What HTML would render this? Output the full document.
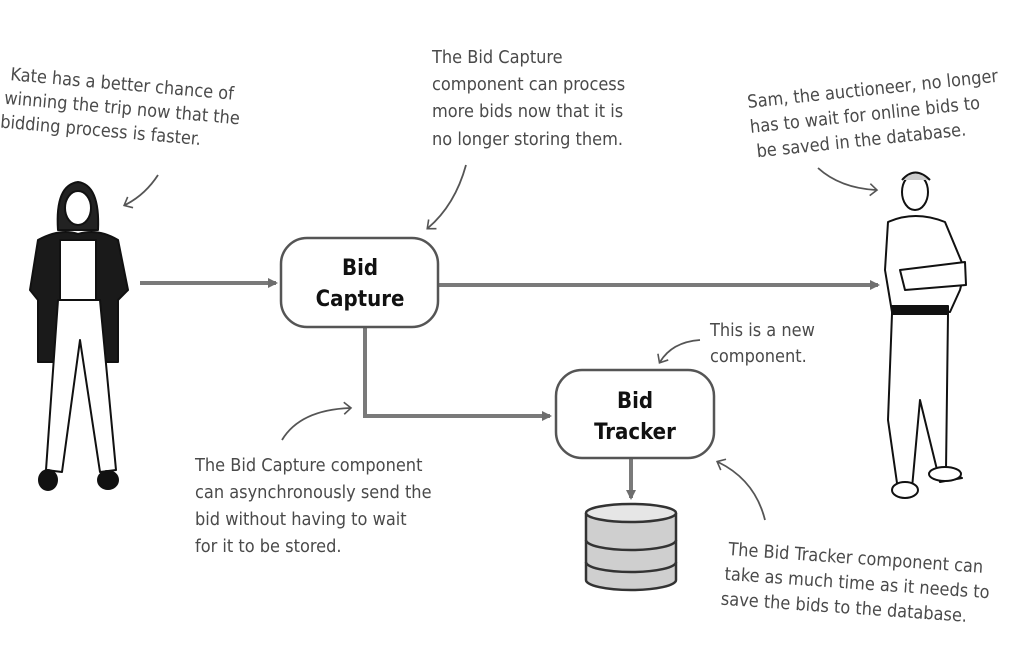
<!DOCTYPE html>
<html><head><meta charset="utf-8"><style>
html,body{margin:0;padding:0;background:#fff;}
svg{display:block}
.n{font-family:"Comic Sans MS","DejaVu Sans Condensed","Liberation Sans Narrow","Liberation Sans",sans-serif;font-size:18px;fill:#4a4a4a;}
.b{font-family:"DejaVu Sans Condensed","Liberation Sans Narrow","Liberation Sans",sans-serif;font-weight:bold;font-size:22px;fill:#111;text-anchor:middle;}
</style></head><body>
<svg width="1024" height="654" viewBox="0 0 1024 654" xmlns="http://www.w3.org/2000/svg">
<defs>
<marker id="a" markerWidth="10" markerHeight="10" refX="8" refY="5" orient="auto" markerUnits="userSpaceOnUse"><path d="M0,0 L10,5 L0,10 z" fill="#6e6e6e"/></marker>
<marker id="s" markerWidth="14" markerHeight="14" refX="7" refY="7" orient="auto" markerUnits="userSpaceOnUse"><path d="M1,1 L8,7 L1,13" fill="none" stroke="#555" stroke-width="1.6"/></marker>
</defs>
<g stroke="#7a7a7a" stroke-width="4" fill="none">
<line x1="140" y1="283" x2="276" y2="283" marker-end="url(#a)"/>
<line x1="438" y1="285" x2="878" y2="285" marker-end="url(#a)"/>
<polyline points="365,327 365,416 550,416" marker-end="url(#a)"/>
<line x1="631" y1="458" x2="631" y2="498" marker-end="url(#a)"/>
</g>
<rect x="281" y="238" width="157" height="89" rx="26" fill="#fff" stroke="#555" stroke-width="2.5"/>
<text class="b" x="360" y="275">Bid</text><text class="b" x="360" y="306">Capture</text>
<rect x="556" y="370" width="158" height="88" rx="26" fill="#fff" stroke="#555" stroke-width="2.5"/>
<text class="b" x="635" y="408">Bid</text><text class="b" x="635" y="439">Tracker</text>
<g stroke="#333" stroke-width="2.5">
<path d="M586,513 L586,580 A45,10 0 0 0 676,580 L676,513" fill="#cfcfcf"/>
<ellipse cx="631" cy="513" rx="45" ry="9" fill="#e6e6e6"/>
<path d="M586,540 A45,10 0 0 0 676,540 M586,562 A45,10 0 0 0 676,562" fill="none"/>
</g>
<g stroke="#555" stroke-width="1.8" fill="none">
<path d="M158,175 Q145,195 125,205" marker-end="url(#s)"/>
<path d="M466,165 Q455,205 428,228" marker-end="url(#s)"/>
<path d="M818,168 Q840,188 876,190" marker-end="url(#s)"/>
<path d="M700,340 Q672,342 660,362" marker-end="url(#s)"/>
<path d="M282,440 Q300,410 350,408" marker-end="url(#s)"/>
<path d="M765,520 Q755,480 718,462" marker-end="url(#s)"/>
</g>
<g class="n">
<g transform="rotate(5 8 80)">
<text x="10" y="80">Kate has a better chance of</text>
<text x="6" y="104">winning the trip now that the</text>
<text x="4" y="128">bidding process is faster.</text></g>
<text x="432" y="63">The Bid Capture</text>
<text x="432" y="90">component can process</text>
<text x="432" y="117">more bids now that it is</text>
<text x="432" y="145">no longer storing them.</text>
<g transform="rotate(-6 748 108)">
<text x="748" y="108">Sam, the auctioneer, no longer</text>
<text x="748" y="133">has to wait for online bids to</text>
<text x="752" y="158">be saved in the database.</text></g>
<text x="710" y="336">This is a new</text>
<text x="710" y="362">component.</text>
<text x="195" y="471">The Bid Capture component</text>
<text x="195" y="498">can asynchronously send the</text>
<text x="195" y="525">bid without having to wait</text>
<text x="195" y="552">for it to be stored.</text>
<g transform="rotate(4 728 555)">
<text x="728" y="555">The Bid Tracker component can</text>
<text x="726" y="580">take as much time as it needs to</text>
<text x="724" y="605">save the bids to the database.</text></g>
</g>
<g stroke="#111" stroke-width="2" stroke-linejoin="round">
<path d="M58,230 Q55,185 78,182 Q100,185 98,230 Z" fill="#222"/>
<ellipse cx="78" cy="208" rx="13" ry="17" fill="#fff"/>
<path d="M38,240 Q60,228 78,234 Q98,228 118,240 L128,290 L118,300 L118,362 L96,362 L96,300 L60,300 L60,362 L38,362 L38,300 L30,290 Z" fill="#1a1a1a"/>
<path d="M60,240 L96,240 L96,300 L60,300 Z" fill="#fff"/>
<path d="M58,300 L100,300 L116,470 L100,472 L80,340 L62,472 L46,470 Z" fill="#fff"/>
<ellipse cx="48" cy="480" rx="9" ry="10" fill="#111"/>
<ellipse cx="108" cy="480" rx="10" ry="9" fill="#111"/>
</g>
<g stroke="#111" stroke-width="2" stroke-linejoin="round" fill="#fff">
<ellipse cx="915" cy="192" rx="13" ry="18"/>
<path d="M902,180 Q915,165 930,180" fill="#ccc"/>
<path d="M888,222 Q915,210 945,222 L965,270 L960,290 L950,312 L892,312 L885,270 Z"/>
<path d="M900,270 L965,262 L966,285 L905,290 Z"/>
<rect x="892" y="306" width="56" height="8" fill="#111"/>
<path d="M892,314 L948,314 L946,470 L962,478 L940,482 L920,400 L912,488 L898,490 L888,420 Z"/>
<ellipse cx="905" cy="490" rx="13" ry="8"/>
<ellipse cx="945" cy="474" rx="16" ry="7"/>
</g>
</svg>
</body></html>
